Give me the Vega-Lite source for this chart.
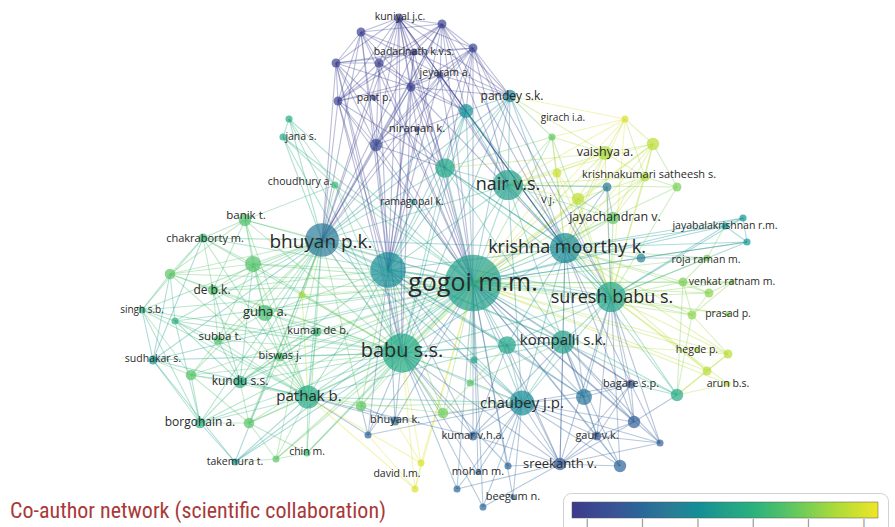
{
  "$schema": "https://vega.github.io/schema/vega-lite/v6.json",
  "width": 895,
  "height": 527,
  "autosize": {"type": "none"},
  "padding": 0,
  "background": "white",
  "config": {"view": {"stroke": null}},
  "title": {"text": "Co-author network (scientific collaboration)", "orient": "bottom", "anchor": "start", "frame": "bounds", "offset": -37, "dx": 10, "font": "Liberation Sans Narrow, Roboto Condensed, Arial Narrow, sans-serif", "fontSize": 22, "fontWeight": "normal", "color": "#a83a3a"},
  "datasets": {
    "nodes": [
      {"id":"p1","x":399,"y":18,"w":5,"yr":2008.8},{"id":"p2","x":361,"y":32,"w":5,"yr":2008.8},{"id":"p3","x":442,"y":24,"w":5,"yr":2008.9},{"id":"p4","x":473,"y":48,"w":5,"yr":2009.0},{"id":"p5","x":414,"y":52,"w":4,"yr":2008.7},{"id":"p6","x":336,"y":63,"w":5,"yr":2008.8},{"id":"p7","x":379,"y":63,"w":5,"yr":2008.7},{"id":"p8","x":440,"y":75,"w":4,"yr":2008.9},{"id":"p9","x":411,"y":87,"w":5,"yr":2008.8},{"id":"p10","x":338,"y":101,"w":5,"yr":2008.8},{"id":"p11","x":374,"y":98,"w":3,"yr":2008.9},{"id":"p12","x":417,"y":129,"w":3,"yr":2009.0},{"id":"p13","x":376,"y":145,"w":7,"yr":2009.3},
      {"id":"t1","x":466,"y":111,"w":8,"yr":2013.1},{"id":"pandey","x":510,"y":96,"w":7,"yr":2012.5},{"id":"t2","x":289,"y":119,"w":4,"yr":2014.6},{"id":"jana","x":283,"y":137,"w":4,"yr":2014.5},{"id":"choud","x":335,"y":185,"w":4,"yr":2015.5},{"id":"ram","x":413,"y":202,"w":3,"yr":2014.0},{"id":"nair","x":508,"y":185,"w":17,"yr":2014.0},{"id":"t3","x":445,"y":168,"w":11,"yr":2014.3},{"id":"girach","x":552,"y":137,"w":4,"yr":2016.5},{"id":"y1","x":625,"y":119,"w":4,"yr":2019.0},{"id":"y2","x":653,"y":144,"w":7,"yr":2018.3},{"id":"vaishya","x":605,"y":153,"w":8,"yr":2017.9},{"id":"y3","x":557,"y":173,"w":5,"yr":2018.7},{"id":"ks","x":645,"y":177,"w":5,"yr":2017.9},{"id":"b1","x":607,"y":187,"w":5,"yr":2011.7},{"id":"g1","x":677,"y":187,"w":5,"yr":2016.9},{"id":"vj","x":578,"y":199,"w":7,"yr":2018.4},{"id":"jayach","x":613,"y":218,"w":7,"yr":2016.4},{"id":"jb","x":725,"y":226,"w":4,"yr":2013.3},{"id":"t4","x":743,"y":218,"w":4,"yr":2013.3},{"id":"t5","x":747,"y":242,"w":4,"yr":2013.5},{"id":"roja","x":707,"y":258,"w":4,"yr":2016.8},{"id":"b2","x":641,"y":258,"w":5,"yr":2012.3},{"id":"km","x":565,"y":248,"w":17,"yr":2012.8},{"id":"gogoi","x":473,"y":283,"w":32,"yr":2014.0},{"id":"x1","x":388,"y":270,"w":20,"yr":2012.9},{"id":"bpk","x":322,"y":240,"w":19,"yr":2011.9},
      {"id":"banik","x":245,"y":220,"w":7,"yr":2016.0},{"id":"chak","x":203,"y":238,"w":5,"yr":2015.5},{"id":"g2","x":253,"y":264,"w":9,"yr":2016.1},{"id":"g3","x":170,"y":274,"w":6,"yr":2016.3},{"id":"deb","x":213,"y":290,"w":6,"yr":2016.0},{"id":"y4","x":302,"y":295,"w":4,"yr":2017.8},{"id":"singh","x":142,"y":310,"w":4,"yr":2015.3},{"id":"guha","x":265,"y":313,"w":9,"yr":2015.8},{"id":"g4","x":175,"y":321,"w":4,"yr":2015.0},{"id":"kdb","x":317,"y":332,"w":5,"yr":2015.5},{"id":"subba","x":218,"y":340,"w":5,"yr":2016.0},{"id":"babu","x":402,"y":353,"w":22,"yr":2014.5},{"id":"sudh","x":153,"y":360,"w":5,"yr":2013.5},{"id":"biswas","x":280,"y":357,"w":5,"yr":2016.0},{"id":"g5","x":191,"y":375,"w":6,"yr":2016.2},{"id":"kundu","x":240,"y":382,"w":7,"yr":2014.9},{"id":"pathak","x":308,"y":397,"w":13,"yr":2014.6},{"id":"g6","x":361,"y":406,"w":6,"yr":2016.4},{"id":"borg","x":200,"y":423,"w":6,"yr":2015.0},{"id":"g7","x":249,"y":423,"w":6,"yr":2016.2},{"id":"bk","x":395,"y":421,"w":5,"yr":2011.0},{"id":"b3","x":368,"y":435,"w":4,"yr":2010.8},{"id":"g8","x":443,"y":413,"w":6,"yr":2016.8},{"id":"take","x":235,"y":462,"w":4,"yr":2013.5},{"id":"g9","x":276,"y":459,"w":4,"yr":2016.3},{"id":"chin","x":307,"y":453,"w":4,"yr":2015.8},{"id":"y5","x":421,"y":463,"w":4,"yr":2019.0},{"id":"y6","x":415,"y":489,"w":4,"yr":2019.0},
      {"id":"g10","x":683,"y":282,"w":5,"yr":2016.9},{"id":"venk","x":732,"y":282,"w":3,"yr":2017.0},{"id":"g11","x":709,"y":293,"w":5,"yr":2017.2},{"id":"ssb","x":611,"y":297,"w":17,"yr":2014.2},{"id":"g12","x":692,"y":315,"w":5,"yr":2017.3},{"id":"prasad","x":728,"y":314,"w":3,"yr":2017.3},{"id":"komp","x":563,"y":342,"w":13,"yr":2014.0},{"id":"t6","x":507,"y":345,"w":10,"yr":2014.2},{"id":"h1","x":728,"y":354,"w":5,"yr":2018.3},{"id":"h2","x":707,"y":371,"w":5,"yr":2018.2},{"id":"hegde","x":697,"y":350,"w":3,"yr":2018.0},{"id":"arun","x":728,"y":384,"w":3,"yr":2018.2},{"id":"t7","x":474,"y":360,"w":4,"yr":2014.2},{"id":"g13","x":470,"y":383,"w":4,"yr":2016.2},{"id":"bagare","x":631,"y":384,"w":5,"yr":2010.3},{"id":"t8","x":677,"y":395,"w":7,"yr":2014.5},{"id":"b4","x":584,"y":397,"w":9,"yr":2011.6},{"id":"chaubey","x":522,"y":403,"w":14,"yr":2012.9},{"id":"b5","x":634,"y":422,"w":7,"yr":2010.6},{"id":"gaur","x":597,"y":436,"w":5,"yr":2010.5},{"id":"b6","x":660,"y":443,"w":4,"yr":2010.6},{"id":"kvha","x":473,"y":436,"w":5,"yr":2010.8},{"id":"sree","x":560,"y":464,"w":7,"yr":2010.5},{"id":"b7","x":620,"y":466,"w":7,"yr":2010.8},{"id":"b8","x":508,"y":466,"w":4,"yr":2010.8},{"id":"mohan","x":478,"y":472,"w":3,"yr":2010.8},{"id":"b9","x":457,"y":489,"w":4,"yr":2010.9},{"id":"beeg","x":513,"y":497,"w":3,"yr":2010.8},{"id":"b10","x":483,"y":507,"w":4,"yr":2010.9}
    ],
    "labels": [
      {"name":"kuniyal j.c.","x":400,"y":17,"docs":9},{"name":"badarinath k.v.s.","x":414,"y":52,"docs":9},{"name":"jeyaram a.","x":445,"y":73,"docs":9},{"name":"pant p.","x":374,"y":98,"docs":9},{"name":"niranjan k.","x":417,"y":129,"docs":11},{"name":"pandey s.k.","x":512,"y":96,"docs":12},{"name":"girach i.a.","x":563,"y":118,"docs":8},{"name":"jana s.","x":301,"y":137,"docs":9},{"name":"choudhury a.","x":300,"y":182,"docs":9},{"name":"ramagopal k.","x":412,"y":202,"docs":9},{"name":"nair v.s.","x":508,"y":185,"docs":24},{"name":"vaishya a.","x":605,"y":152,"docs":13},{"name":"krishnakumari satheesh s.","x":649,"y":175,"docs":10},{"name":"v j.","x":548,"y":200,"docs":9},{"name":"jayachandran v.","x":615,"y":217,"docs":13},{"name":"jayabalakrishnan r.m.","x":725,"y":226,"docs":9},{"name":"banik t.","x":246,"y":216,"docs":11},{"name":"chakraborty m.","x":205,"y":239,"docs":10},{"name":"bhuyan p.k.","x":321,"y":242,"docs":26},{"name":"krishna moorthy k.","x":567,"y":248,"docs":24},{"name":"roja raman m.","x":706,"y":260,"docs":9},{"name":"gogoi m.m.","x":473,"y":283,"docs":38},{"name":"venkat ratnam m.","x":732,"y":282,"docs":9},{"name":"suresh babu s.","x":612,"y":298,"docs":24},{"name":"de b.k.","x":212,"y":290,"docs":12},{"name":"singh s.b.","x":142,"y":310,"docs":8},{"name":"guha a.","x":265,"y":312,"docs":14},{"name":"prasad p.","x":728,"y":314,"docs":9},{"name":"kumar de b.","x":318,"y":331,"docs":10},{"name":"subba t.","x":220,"y":337,"docs":11},{"name":"kompalli s.k.","x":563,"y":340,"docs":18},{"name":"hegde p.","x":697,"y":350,"docs":9},{"name":"babu s.s.","x":402,"y":351,"docs":28},{"name":"sudhakar s.","x":153,"y":359,"docs":9},{"name":"biswas j.","x":280,"y":356,"docs":10},{"name":"kundu s.s.","x":240,"y":381,"docs":12},{"name":"arun b.s.","x":728,"y":384,"docs":9},{"name":"bagare s.p.","x":631,"y":384,"docs":10},{"name":"pathak b.","x":309,"y":396,"docs":18},{"name":"chaubey j.p.","x":522,"y":403,"docs":18},{"name":"borgohain a.","x":200,"y":422,"docs":12},{"name":"bhuyan k.","x":395,"y":420,"docs":10},{"name":"gaur v.k.","x":597,"y":436,"docs":10},{"name":"kumar v.h.a.","x":473,"y":436,"docs":10},{"name":"chin m.","x":307,"y":452,"docs":9},{"name":"takemura t.","x":235,"y":462,"docs":9},{"name":"sreekanth v.","x":560,"y":464,"docs":14},{"name":"mohan m.","x":478,"y":472,"docs":10},{"name":"david l.m.","x":397,"y":474,"docs":9},{"name":"beegum n.","x":513,"y":497,"docs":10}
    ],
    "edges": [
      {"s":"gogoi","t":"p1"},{"s":"gogoi","t":"p3"},{"s":"gogoi","t":"p4"},{"s":"gogoi","t":"p6"},{"s":"gogoi","t":"p9"},{"s":"gogoi","t":"p10"},{"s":"gogoi","t":"p13"},{"s":"gogoi","t":"t1"},{"s":"gogoi","t":"pandey"},{"s":"gogoi","t":"t2"},{"s":"gogoi","t":"jana"},{"s":"gogoi","t":"choud"},{"s":"gogoi","t":"nair"},{"s":"gogoi","t":"t3"},{"s":"gogoi","t":"girach"},{"s":"gogoi","t":"y2"},{"s":"gogoi","t":"vaishya"},{"s":"gogoi","t":"y3"},{"s":"gogoi","t":"ks"},{"s":"gogoi","t":"b1"},{"s":"gogoi","t":"g1"},{"s":"gogoi","t":"vj"},{"s":"gogoi","t":"jayach"},{"s":"gogoi","t":"jb"},{"s":"gogoi","t":"t5"},{"s":"gogoi","t":"roja"},{"s":"gogoi","t":"b2"},{"s":"gogoi","t":"km"},{"s":"gogoi","t":"x1"},{"s":"gogoi","t":"bpk"},{"s":"gogoi","t":"banik"},{"s":"gogoi","t":"chak"},{"s":"gogoi","t":"g2"},{"s":"gogoi","t":"g3"},{"s":"gogoi","t":"deb"},{"s":"gogoi","t":"y4"},{"s":"gogoi","t":"singh"},{"s":"gogoi","t":"guha"},{"s":"gogoi","t":"g4"},{"s":"gogoi","t":"kdb"},{"s":"gogoi","t":"subba"},{"s":"gogoi","t":"babu"},{"s":"gogoi","t":"sudh"},{"s":"gogoi","t":"biswas"},{"s":"gogoi","t":"g5"},{"s":"gogoi","t":"kundu"},{"s":"gogoi","t":"pathak"},{"s":"gogoi","t":"g6"},{"s":"gogoi","t":"borg"},{"s":"gogoi","t":"g7"},{"s":"gogoi","t":"bk"},{"s":"gogoi","t":"g8"},{"s":"gogoi","t":"take"},{"s":"gogoi","t":"chin"},{"s":"gogoi","t":"y5"},{"s":"gogoi","t":"g10"},{"s":"gogoi","t":"g11"},{"s":"gogoi","t":"ssb"},{"s":"gogoi","t":"g12"},{"s":"gogoi","t":"komp"},{"s":"gogoi","t":"t6"},{"s":"gogoi","t":"t7"},{"s":"gogoi","t":"g13"},{"s":"gogoi","t":"bagare"},{"s":"gogoi","t":"t8"},{"s":"gogoi","t":"b4"},{"s":"gogoi","t":"chaubey"},{"s":"gogoi","t":"b5"},{"s":"gogoi","t":"gaur"},{"s":"gogoi","t":"b6"},{"s":"gogoi","t":"kvha"},{"s":"gogoi","t":"sree"},{"s":"gogoi","t":"b7"},{"s":"gogoi","t":"b8"},{"s":"gogoi","t":"b9"},{"s":"gogoi","t":"b10"},{"s":"gogoi","t":"h1"},{"s":"gogoi","t":"h2"},{"s":"gogoi","t":"ram"},
      {"s":"gogoi","t":"p2"},{"s":"gogoi","t":"p5"},{"s":"gogoi","t":"p7"},{"s":"gogoi","t":"p8"},{"s":"gogoi","t":"p12"},{"s":"gogoi","t":"t4"},{"s":"gogoi","t":"y1"},{"s":"gogoi","t":"y6"},{"s":"gogoi","t":"b3"},{"s":"gogoi","t":"g9"},{"s":"gogoi","t":"venk"},{"s":"gogoi","t":"prasad"},{"s":"gogoi","t":"arun"},{"s":"gogoi","t":"hegde"},{"s":"gogoi","t":"beeg"},{"s":"gogoi","t":"mohan"},
      {"s":"babu","t":"bpk"},{"s":"babu","t":"x1"},{"s":"babu","t":"banik"},{"s":"babu","t":"chak"},{"s":"babu","t":"g2"},{"s":"babu","t":"g3"},{"s":"babu","t":"deb"},{"s":"babu","t":"guha"},{"s":"babu","t":"singh"},{"s":"babu","t":"kdb"},{"s":"babu","t":"subba"},{"s":"babu","t":"sudh"},{"s":"babu","t":"biswas"},{"s":"babu","t":"g5"},{"s":"babu","t":"kundu"},{"s":"babu","t":"pathak"},{"s":"babu","t":"g6"},{"s":"babu","t":"borg"},{"s":"babu","t":"g7"},{"s":"babu","t":"bk"},{"s":"babu","t":"b3"},{"s":"babu","t":"g8"},{"s":"babu","t":"take"},{"s":"babu","t":"g9"},{"s":"babu","t":"chin"},{"s":"babu","t":"y5"},{"s":"babu","t":"y6"},{"s":"babu","t":"kvha"},{"s":"babu","t":"b9"},{"s":"babu","t":"b10"},{"s":"babu","t":"sree"},{"s":"babu","t":"chaubey"},{"s":"babu","t":"komp"},{"s":"babu","t":"t6"},{"s":"babu","t":"km"},{"s":"babu","t":"ssb"},{"s":"babu","t":"nair"},{"s":"babu","t":"t3"},{"s":"babu","t":"p13"},{"s":"babu","t":"p6"},{"s":"babu","t":"jana"},{"s":"babu","t":"t2"},{"s":"babu","t":"choud"},{"s":"babu","t":"b8"},{"s":"babu","t":"g13"},{"s":"babu","t":"t7"},{"s":"babu","t":"y4"},{"s":"babu","t":"g4"},{"s":"babu","t":"p1"},{"s":"babu","t":"p9"},{"s":"babu","t":"p10"},{"s":"babu","t":"pandey"},{"s":"babu","t":"t1"},{"s":"babu","t":"vj"},{"s":"babu","t":"mohan"},
      {"s":"bpk","t":"p1"},{"s":"bpk","t":"p2"},{"s":"bpk","t":"p6"},{"s":"bpk","t":"p7"},{"s":"bpk","t":"p10"},{"s":"bpk","t":"p13"},{"s":"bpk","t":"p9"},{"s":"bpk","t":"banik"},{"s":"bpk","t":"chak"},{"s":"bpk","t":"g2"},{"s":"bpk","t":"g3"},{"s":"bpk","t":"deb"},{"s":"bpk","t":"singh"},{"s":"bpk","t":"guha"},{"s":"bpk","t":"g4"},{"s":"bpk","t":"sudh"},{"s":"bpk","t":"kundu"},{"s":"bpk","t":"pathak"},{"s":"bpk","t":"borg"},{"s":"bpk","t":"choud"},{"s":"bpk","t":"jana"},{"s":"bpk","t":"t2"},{"s":"bpk","t":"x1"},{"s":"bpk","t":"km"},{"s":"bpk","t":"nair"},{"s":"bpk","t":"t3"},{"s":"bpk","t":"ssb"},{"s":"bpk","t":"komp"},{"s":"bpk","t":"chaubey"},{"s":"bpk","t":"y4"},{"s":"bpk","t":"subba"},{"s":"bpk","t":"biswas"},{"s":"bpk","t":"take"},{"s":"bpk","t":"g7"},{"s":"bpk","t":"g5"},{"s":"bpk","t":"t1"},{"s":"bpk","t":"pandey"},{"s":"bpk","t":"p3"},{"s":"bpk","t":"p4"},{"s":"bpk","t":"p5"},{"s":"bpk","t":"p8"},{"s":"bpk","t":"t6"},{"s":"bpk","t":"g6"},{"s":"bpk","t":"g8"},{"s":"bpk","t":"chin"},{"s":"bpk","t":"g9"},
      {"s":"x1","t":"p2"},{"s":"x1","t":"p3"},{"s":"x1","t":"p5"},{"s":"x1","t":"p6"},{"s":"x1","t":"p7"},{"s":"x1","t":"p8"},{"s":"x1","t":"p9"},{"s":"x1","t":"p10"},{"s":"x1","t":"p12"},{"s":"x1","t":"p13"},{"s":"x1","t":"pandey"},{"s":"x1","t":"t1"},{"s":"x1","t":"km"},{"s":"x1","t":"nair"},{"s":"x1","t":"ssb"},{"s":"x1","t":"t3"},{"s":"x1","t":"komp"},{"s":"x1","t":"chaubey"},{"s":"x1","t":"pathak"},{"s":"x1","t":"guha"},{"s":"x1","t":"deb"},{"s":"x1","t":"g2"},{"s":"x1","t":"kundu"},{"s":"x1","t":"b4"},{"s":"x1","t":"bk"},{"s":"x1","t":"sree"},{"s":"x1","t":"kvha"},{"s":"x1","t":"ram"},{"s":"x1","t":"g6"},{"s":"x1","t":"g8"},{"s":"x1","t":"t6"},{"s":"x1","t":"b3"},{"s":"x1","t":"p1"},{"s":"x1","t":"p4"},
      {"s":"t3","t":"p1"},{"s":"t3","t":"p4"},{"s":"t3","t":"p9"},{"s":"t3","t":"p13"},{"s":"t3","t":"t1"},{"s":"t3","t":"km"},{"s":"t3","t":"ssb"},{"s":"t3","t":"komp"},{"s":"t3","t":"vaishya"},{"s":"t3","t":"girach"},{"s":"t3","t":"p6"},{"s":"t3","t":"p10"},{"s":"t1","t":"p3"},{"s":"t1","t":"p1"},{"s":"t1","t":"p8"},{"s":"t1","t":"km"},{"s":"t1","t":"p13"},
      {"s":"t6","t":"kvha"},{"s":"t6","t":"sree"},{"s":"t6","t":"b4"},{"s":"t6","t":"km"},{"s":"t6","t":"g8"},{"s":"chaubey","t":"pathak"},{"s":"chaubey","t":"g6"},{"s":"pathak","t":"kvha"},{"s":"pathak","t":"bk"},{"s":"pathak","t":"b3"},{"s":"pathak","t":"t6"},
      {"s":"km","t":"nair"},{"s":"km","t":"t3"},{"s":"km","t":"ssb"},{"s":"km","t":"komp"},{"s":"km","t":"chaubey"},{"s":"km","t":"vaishya"},{"s":"km","t":"y2"},{"s":"km","t":"ks"},{"s":"km","t":"vj"},{"s":"km","t":"jayach"},{"s":"km","t":"jb"},{"s":"km","t":"t4"},{"s":"km","t":"t5"},{"s":"km","t":"roja"},{"s":"km","t":"b2"},{"s":"km","t":"g10"},{"s":"km","t":"g11"},{"s":"km","t":"g12"},{"s":"km","t":"h1"},{"s":"km","t":"h2"},{"s":"km","t":"t8"},{"s":"km","t":"b4"},{"s":"km","t":"bagare"},{"s":"km","t":"b5"},{"s":"km","t":"sree"},{"s":"km","t":"pandey"},{"s":"km","t":"t1"},{"s":"km","t":"girach"},{"s":"km","t":"y1"},{"s":"km","t":"y3"},{"s":"km","t":"b1"},{"s":"km","t":"p4"},{"s":"km","t":"p3"},{"s":"km","t":"p1"},{"s":"km","t":"p8"},{"s":"km","t":"p9"},
      {"s":"ssb","t":"nair"},{"s":"ssb","t":"komp"},{"s":"ssb","t":"chaubey"},{"s":"ssb","t":"vaishya"},{"s":"ssb","t":"ks"},{"s":"ssb","t":"vj"},{"s":"ssb","t":"jayach"},{"s":"ssb","t":"g1"},{"s":"ssb","t":"jb"},{"s":"ssb","t":"t5"},{"s":"ssb","t":"roja"},{"s":"ssb","t":"g10"},{"s":"ssb","t":"g11"},{"s":"ssb","t":"g12"},{"s":"ssb","t":"venk"},{"s":"ssb","t":"h1"},{"s":"ssb","t":"h2"},{"s":"ssb","t":"t8"},{"s":"ssb","t":"b4"},{"s":"ssb","t":"bagare"},{"s":"ssb","t":"b5"},{"s":"ssb","t":"gaur"},{"s":"ssb","t":"b6"},{"s":"ssb","t":"b7"},{"s":"ssb","t":"sree"},{"s":"ssb","t":"b1"},{"s":"ssb","t":"y2"},{"s":"ssb","t":"t6"},{"s":"ssb","t":"p4"},{"s":"ssb","t":"t1"},{"s":"ssb","t":"pandey"},{"s":"ssb","t":"y1"},{"s":"ssb","t":"y3"},{"s":"ssb","t":"girach"},{"s":"ssb","t":"t4"},{"s":"ssb","t":"arun"},{"s":"ssb","t":"prasad"},
      {"s":"nair","t":"t3"},{"s":"nair","t":"pandey"},{"s":"nair","t":"t1"},{"s":"nair","t":"girach"},{"s":"nair","t":"y1"},{"s":"nair","t":"y2"},{"s":"nair","t":"vaishya"},{"s":"nair","t":"y3"},{"s":"nair","t":"ks"},{"s":"nair","t":"vj"},{"s":"nair","t":"jayach"},{"s":"nair","t":"b1"},{"s":"nair","t":"p1"},{"s":"nair","t":"p3"},{"s":"nair","t":"p4"},{"s":"nair","t":"p8"},{"s":"nair","t":"komp"},{"s":"nair","t":"chaubey"},{"s":"nair","t":"g1"},
      {"s":"pandey","t":"p1"},{"s":"pandey","t":"p3"},{"s":"pandey","t":"p4"},{"s":"pandey","t":"p8"},{"s":"pandey","t":"p9"},{"s":"pandey","t":"t1"},{"s":"pandey","t":"t3"},{"s":"pandey","t":"girach"},{"s":"pandey","t":"vaishya"},{"s":"pandey","t":"y1"},{"s":"pandey","t":"p5"},
      {"s":"p1","t":"p2"},{"s":"p1","t":"p3"},{"s":"p1","t":"p4"},{"s":"p1","t":"p5"},{"s":"p1","t":"p6"},{"s":"p1","t":"p7"},{"s":"p1","t":"p8"},{"s":"p1","t":"p9"},{"s":"p1","t":"p10"},{"s":"p1","t":"p13"},{"s":"p2","t":"p3"},{"s":"p2","t":"p5"},{"s":"p2","t":"p6"},{"s":"p2","t":"p7"},{"s":"p2","t":"p9"},{"s":"p2","t":"p10"},{"s":"p2","t":"p13"},{"s":"p3","t":"p4"},{"s":"p3","t":"p5"},{"s":"p3","t":"p7"},{"s":"p3","t":"p8"},{"s":"p3","t":"p9"},{"s":"p3","t":"p13"},{"s":"p4","t":"p5"},{"s":"p4","t":"p8"},{"s":"p4","t":"p9"},{"s":"p4","t":"p13"},{"s":"t1","t":"p4"},{"s":"p5","t":"p6"},{"s":"p5","t":"p9"},{"s":"p5","t":"p10"},{"s":"p6","t":"p7"},{"s":"p6","t":"p9"},{"s":"p6","t":"p10"},{"s":"p6","t":"p13"},{"s":"p7","t":"p9"},{"s":"p7","t":"p10"},{"s":"p7","t":"p13"},{"s":"p8","t":"p9"},{"s":"p8","t":"p10"},{"s":"p8","t":"p13"},{"s":"p9","t":"p10"},{"s":"p9","t":"p13"},{"s":"p10","t":"p13"},{"s":"p3","t":"p10"},{"s":"p2","t":"p8"},{"s":"p6","t":"p4"},{"s":"p1","t":"p12"},{"s":"t1","t":"p7"},{"s":"t1","t":"p9"},
      {"s":"chaubey","t":"komp"},{"s":"chaubey","t":"t6"},{"s":"chaubey","t":"b4"},{"s":"chaubey","t":"bagare"},{"s":"chaubey","t":"b5"},{"s":"chaubey","t":"gaur"},{"s":"chaubey","t":"b6"},{"s":"chaubey","t":"kvha"},{"s":"chaubey","t":"sree"},{"s":"chaubey","t":"b7"},{"s":"chaubey","t":"b8"},{"s":"chaubey","t":"b9"},{"s":"chaubey","t":"b10"},{"s":"chaubey","t":"t7"},{"s":"chaubey","t":"g13"},{"s":"chaubey","t":"g8"},{"s":"chaubey","t":"bk"},{"s":"chaubey","t":"b3"},{"s":"chaubey","t":"beeg"},{"s":"chaubey","t":"mohan"},
      {"s":"komp","t":"t6"},{"s":"komp","t":"b4"},{"s":"komp","t":"bagare"},{"s":"komp","t":"b5"},{"s":"komp","t":"gaur"},{"s":"komp","t":"b6"},{"s":"komp","t":"sree"},{"s":"komp","t":"b7"},{"s":"komp","t":"t8"},{"s":"komp","t":"kvha"},{"s":"komp","t":"t7"},{"s":"komp","t":"g13"},{"s":"komp","t":"h1"},
      {"s":"sree","t":"gaur"},{"s":"sree","t":"b7"},{"s":"sree","t":"b5"},{"s":"sree","t":"b8"},{"s":"sree","t":"b9"},{"s":"sree","t":"b10"},{"s":"sree","t":"kvha"},{"s":"sree","t":"bagare"},{"s":"sree","t":"b6"},
      {"s":"gaur","t":"b5"},{"s":"gaur","t":"b6"},{"s":"gaur","t":"b7"},{"s":"gaur","t":"bagare"},{"s":"gaur","t":"b4"},{"s":"bagare","t":"b5"},{"s":"bagare","t":"b6"},{"s":"bagare","t":"t8"},{"s":"bagare","t":"b4"},{"s":"t8","t":"h1"},{"s":"t8","t":"h2"},{"s":"t8","t":"arun"},{"s":"t8","t":"b5"},{"s":"h1","t":"h2"},{"s":"h1","t":"g12"},
      {"s":"pathak","t":"guha"},{"s":"pathak","t":"deb"},{"s":"pathak","t":"kundu"},{"s":"pathak","t":"g5"},{"s":"pathak","t":"borg"},{"s":"pathak","t":"g7"},{"s":"pathak","t":"biswas"},{"s":"pathak","t":"subba"},{"s":"pathak","t":"kdb"},{"s":"pathak","t":"g6"},{"s":"pathak","t":"g9"},{"s":"pathak","t":"chin"},{"s":"pathak","t":"take"},{"s":"pathak","t":"sudh"},{"s":"pathak","t":"singh"},{"s":"pathak","t":"g2"},{"s":"pathak","t":"banik"},{"s":"pathak","t":"chak"},{"s":"pathak","t":"g3"},{"s":"pathak","t":"g4"},{"s":"pathak","t":"y4"},{"s":"pathak","t":"g8"},{"s":"pathak","t":"y5"},{"s":"pathak","t":"y6"},
      {"s":"banik","t":"chak"},{"s":"banik","t":"g2"},{"s":"banik","t":"deb"},{"s":"banik","t":"guha"},{"s":"chak","t":"g3"},{"s":"chak","t":"singh"},{"s":"chak","t":"g2"},{"s":"chak","t":"deb"},{"s":"g3","t":"singh"},{"s":"g3","t":"deb"},{"s":"g3","t":"g4"},{"s":"g3","t":"sudh"},{"s":"deb","t":"guha"},{"s":"deb","t":"g2"},{"s":"singh","t":"sudh"},{"s":"singh","t":"g4"},{"s":"singh","t":"g5"},{"s":"guha","t":"kdb"},{"s":"guha","t":"subba"},{"s":"guha","t":"biswas"},{"s":"guha","t":"g2"},{"s":"subba","t":"kundu"},{"s":"subba","t":"g5"},{"s":"subba","t":"g4"},{"s":"sudh","t":"g5"},{"s":"sudh","t":"borg"},{"s":"sudh","t":"take"},{"s":"g5","t":"kundu"},{"s":"g5","t":"borg"},{"s":"kundu","t":"borg"},{"s":"kundu","t":"g7"},{"s":"kundu","t":"biswas"},{"s":"borg","t":"take"},{"s":"borg","t":"g7"},{"s":"g7","t":"chin"},{"s":"g7","t":"g9"},{"s":"take","t":"g9"},{"s":"chin","t":"g9"},{"s":"biswas","t":"kdb"},{"s":"g6","t":"bk"},{"s":"g6","t":"b3"},{"s":"banik","t":"choud"},{"s":"chak","t":"sudh"},{"s":"singh","t":"borg"},{"s":"deb","t":"subba"},{"s":"g2","t":"g3"},{"s":"g2","t":"subba"},{"s":"g2","t":"kundu"},{"s":"banik","t":"g3"},{"s":"deb","t":"kundu"},{"s":"g4","t":"kundu"},{"s":"g4","t":"borg"},{"s":"biswas","t":"g7"},{"s":"kdb","t":"kundu"},{"s":"g5","t":"g7"},
      {"s":"girach","t":"y1"},{"s":"girach","t":"vaishya"},{"s":"y1","t":"y2"},{"s":"y1","t":"vaishya"},{"s":"y2","t":"vaishya"},{"s":"y2","t":"ks"},{"s":"y2","t":"g1"},{"s":"vaishya","t":"ks"},{"s":"vaishya","t":"y3"},{"s":"ks","t":"g1"},{"s":"vj","t":"jayach"},{"s":"vj","t":"vaishya"},{"s":"jayach","t":"ks"},{"s":"jayach","t":"b1"},{"s":"y3","t":"vj"},{"s":"girach","t":"y3"},{"s":"y1","t":"ks"},{"s":"vj","t":"y2"},{"s":"jayach","t":"y2"},{"s":"vj","t":"ks"},
      {"s":"jb","t":"t4"},{"s":"jb","t":"t5"},{"s":"t4","t":"t5"},{"s":"jb","t":"roja"},{"s":"t5","t":"b2"},{"s":"roja","t":"g10"},{"s":"g10","t":"g11"},{"s":"g11","t":"g12"},{"s":"venk","t":"g10"},{"s":"venk","t":"g12"},{"s":"roja","t":"b2"},{"s":"g10","t":"g12"},{"s":"g11","t":"venk"},{"s":"t8","t":"g12"},{"s":"t8","t":"g10"},
      {"s":"y5","t":"y6"},{"s":"bk","t":"y5"},{"s":"b3","t":"y6"},{"s":"jana","t":"t2"},{"s":"jana","t":"choud"},{"s":"t2","t":"choud"},{"s":"x1","t":"choud"}
    ]
  },
  "encoding": {
    "x": {"field": "x", "type": "quantitative", "scale": {"domain": [0, 895], "nice": false, "zero": false}, "axis": null},
    "y": {"field": "y", "type": "quantitative", "scale": {"domain": [0, 527], "nice": false, "zero": false, "reverse": true}, "axis": null}
  },
  "layer": [
    {
      "data": {"name": "edges"},
      "transform": [
        {"lookup": "s", "from": {"data": {"name": "nodes"}, "key": "id", "fields": ["x", "y"]}},
        {"lookup": "t", "from": {"data": {"name": "nodes"}, "key": "id", "fields": ["x", "y", "yr"]}, "as": ["tx", "ty", "tyr"]}
      ],
      "mark": {"type": "rule", "strokeWidth": 1.1, "opacity": 0.35},
      "encoding": {
        "x2": {"field": "tx"},
        "y2": {"field": "ty"},
        "color": {"field": "tyr", "type": "quantitative", "scale": {"domain": [2008.455, 2019.51], "range": ["#3e3a8c", "#3b5896", "#2e7d95", "#23a08a", "#45bd6e", "#9fd83f", "#f0e52a"]}, "legend": null}
      }
    },
    {
      "data": {"name": "nodes"},
      "mark": {"type": "point", "shape": "circle", "filled": true, "fillOpacity": 0.7, "strokeWidth": 0},
      "encoding": {
        "size": {"field": "w", "type": "quantitative", "scale": {"type": "pow", "exponent": 2, "domain": [0, 32], "range": [0, 3217]}, "legend": null},
        "color": {"field": "yr", "type": "quantitative", "scale": {"domain": [2008.455, 2019.51], "range": ["#3e3a8c", "#3b5896", "#2e7d95", "#23a08a", "#45bd6e", "#9fd83f", "#f0e52a"]},
          "legend": {"type": "gradient", "orient": "none", "legendX": 563, "legendY": 493, "direction": "horizontal", "title": null, "gradientLength": 306, "gradientThickness": 16, "padding": 9, "strokeColor": "#d0d0d0", "cornerRadius": 8, "fillColor": "white", "values": [2009, 2011, 2013, 2015, 2017, 2019], "labelExpr": "'|'", "labelFontSize": 9, "labelColor": "#666", "labelOffset": 1, "gradientStrokeColor": "#555", "gradientStrokeWidth": 0.5}}
      }
    },
    {
      "data": {"name": "labels"},
      "mark": {"type": "text", "font": "Open Sans", "color": "#2a2a2a", "baseline": "middle", "align": "center"},
      "encoding": {
        "text": {"field": "name"},
        "size": {"field": "docs", "type": "quantitative", "scale": {"domain": [0, 40], "range": [6, 26]}, "legend": null}
      }
    }
  ],
  "resolve": {"scale": {"size": "independent", "color": "independent"}, "legend": {"size": "independent", "color": "independent"}}
}
